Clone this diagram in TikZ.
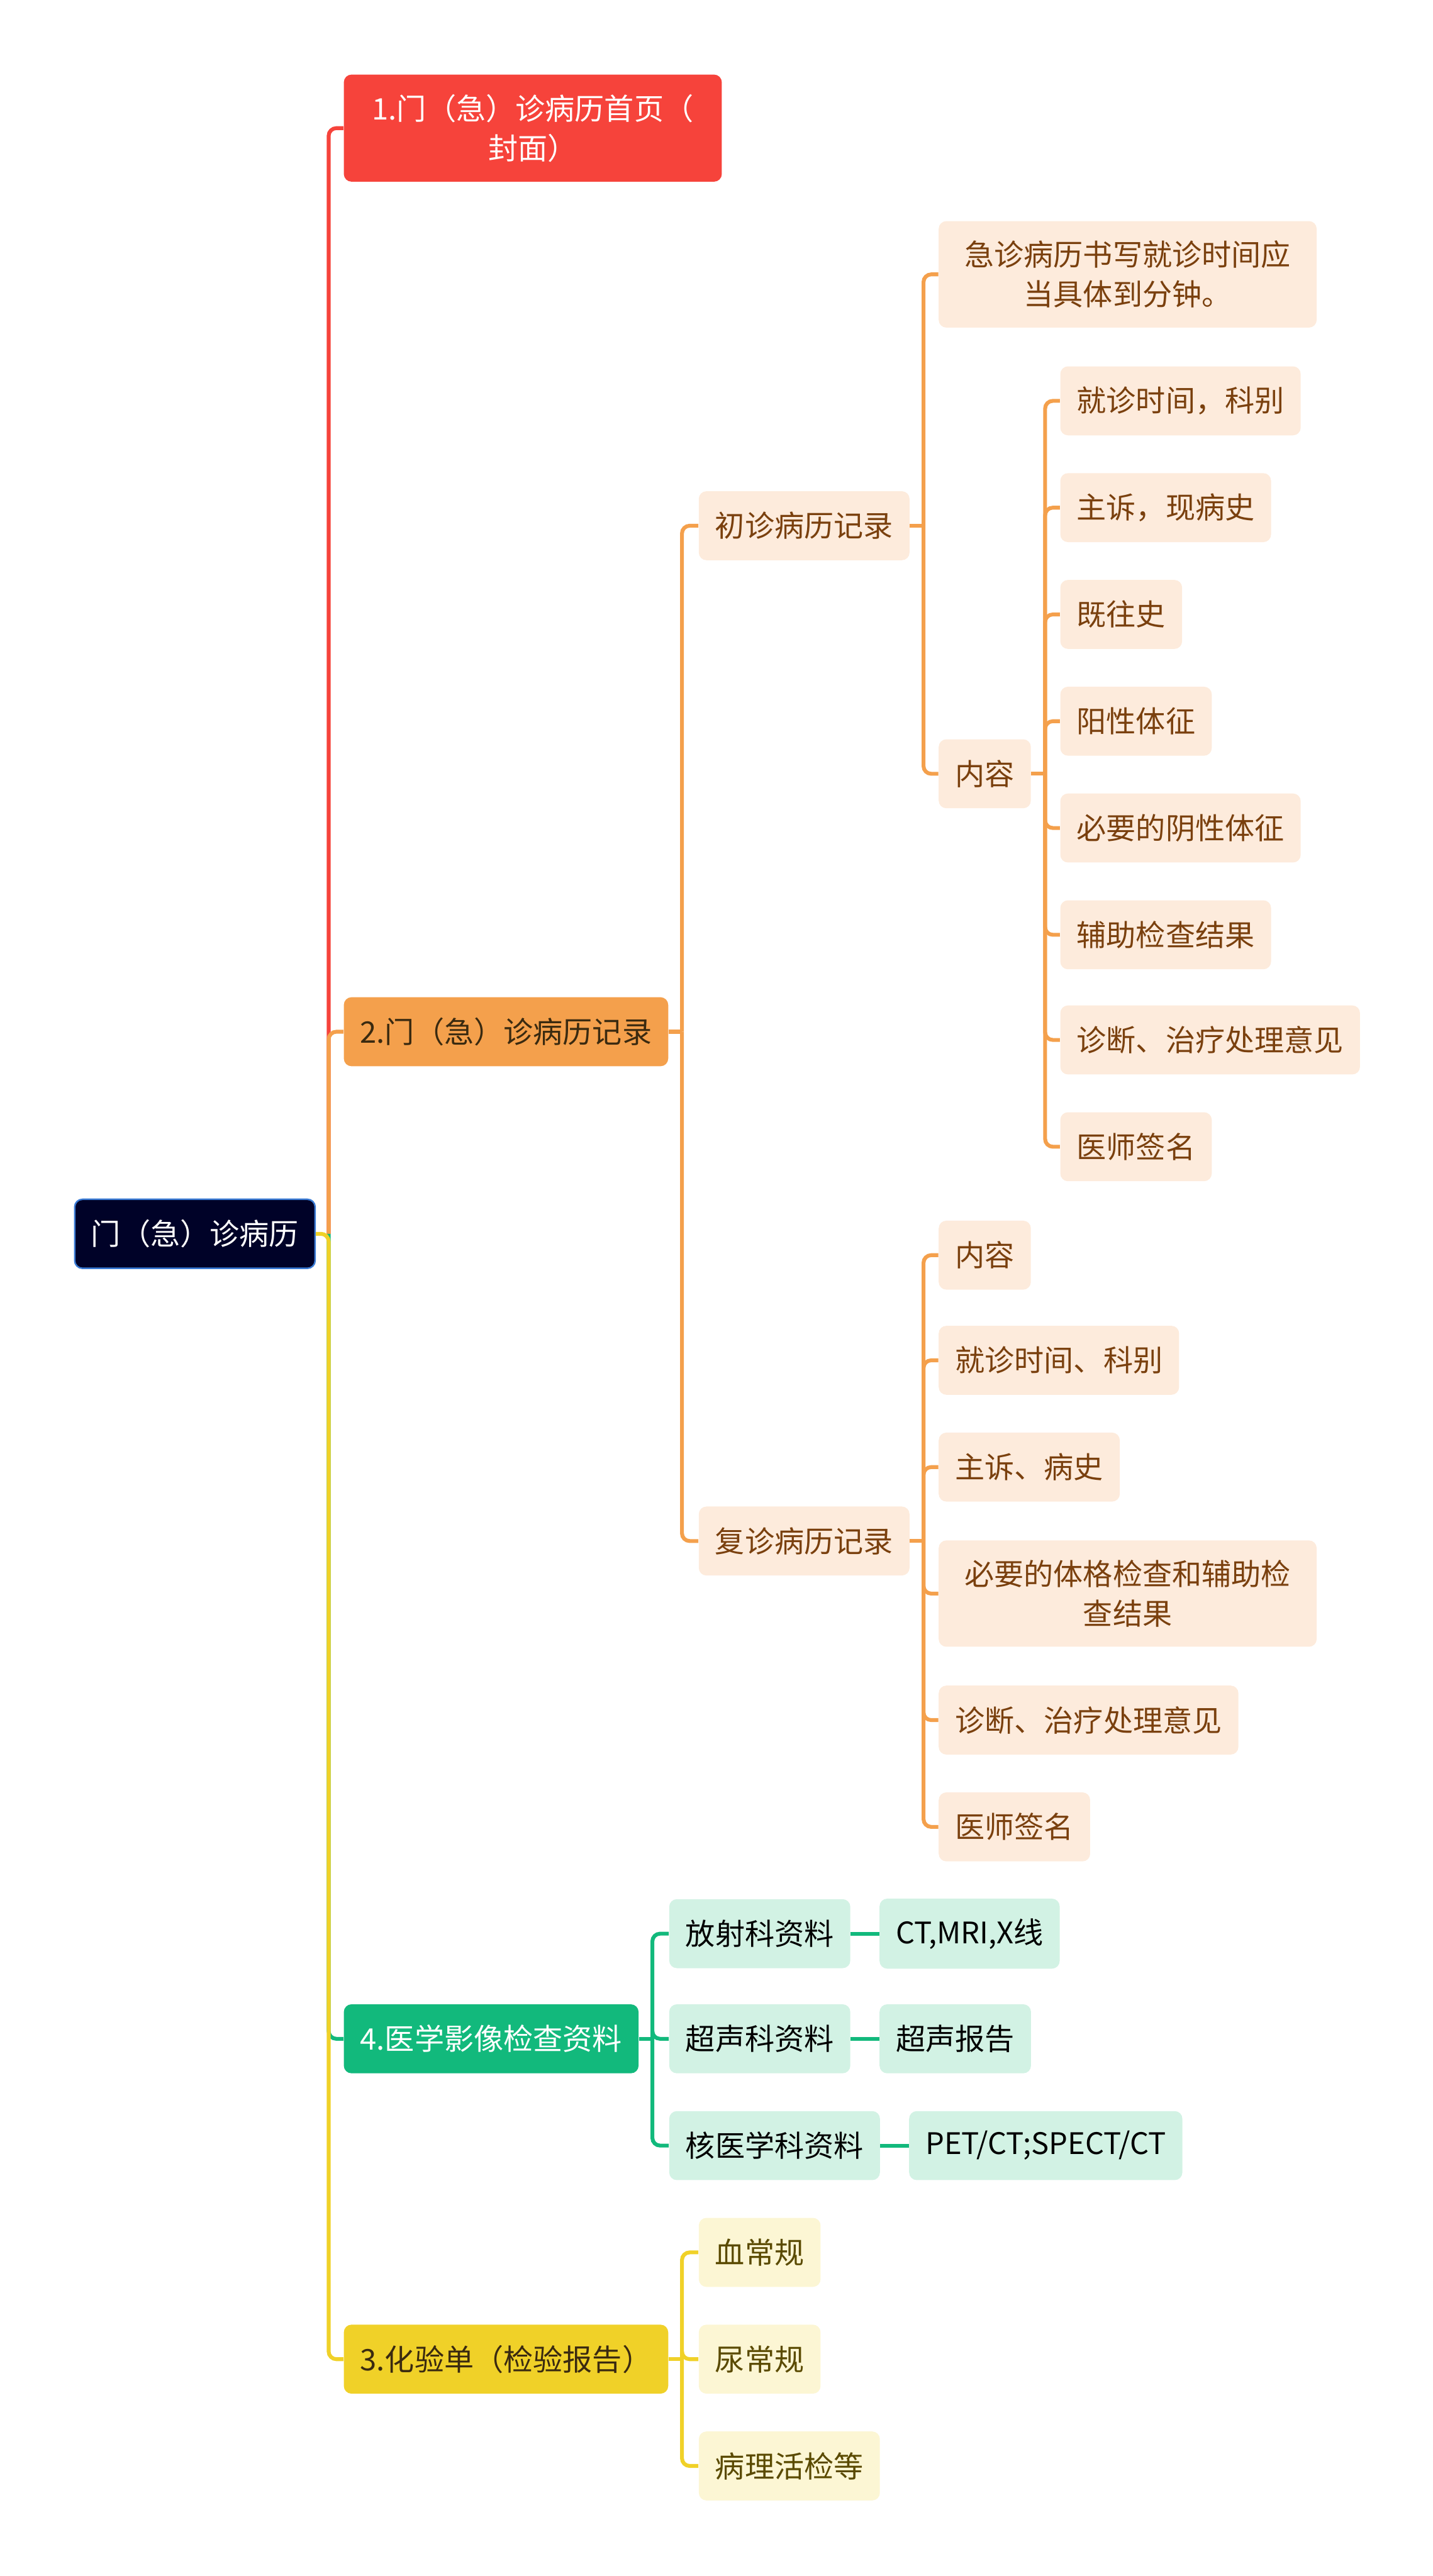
\documentclass[tikz,border=0pt]{standalone}
\usepackage{fontspec}
\setmainfont{Noto Sans CJK SC}
\usepackage{xcolor}
\usetikzlibrary{positioning}
\definecolor{rootNavy}{HTML}{000228}
\definecolor{rootEdge}{HTML}{3A7BD5}
\definecolor{mapRed}{HTML}{F6433B}
\definecolor{mapOrange}{HTML}{F4A04C}
\definecolor{mapGreen}{HTML}{12B97C}
\definecolor{mapYellow}{HTML}{F0D128}
\definecolor{peachFill}{HTML}{FDEBDC}
\definecolor{peachText}{HTML}{7A400E}
\definecolor{mintFill}{HTML}{D2F2E4}
\definecolor{lemonFill}{HTML}{FCF6D4}
\definecolor{lemonText}{HTML}{5A4A00}
\definecolor{darkText}{HTML}{3A2A10}

\begin{document}
\begin{tikzpicture}[x=0.03cm, y=-0.03cm,
    box/.style={rounded corners=4pt, anchor=west, align=center,
      font=\fontsize{15.4pt}{20.5pt}\selectfont, inner xsep=0.3cm,
      inner ysep=0.36cm, minimum height=1.26cm},
    rootbox/.style={box, fill=rootNavy, draw=rootEdge, line width=0.8pt, text=white},
    topR/.style={box, fill=mapRed, text=white},
    topO/.style={box, fill=mapOrange, text=darkText},
    topG/.style={box, fill=mapGreen, text=white},
    topY/.style={box, fill=mapYellow, text=darkText},
    leafO/.style={box, fill=peachFill, text=peachText},
    leafG/.style={box, fill=mintFill, text=black},
    leafY/.style={box, fill=lemonFill, text=lemonText},
    ln/.style={line width=2pt, rounded corners=4pt},
    lnR/.style={ln, mapRed}, lnO/.style={ln, mapOrange},
    lnG/.style={ln, mapGreen}, lnY/.style={ln, mapYellow}]
  \useasboundingbox (0,0) rectangle (872,1568);

  % root and main branches
  \node[rootbox] (root) at (45,751) {门（急）诊病历};
  \node[topR, minimum width=6.9cm] (n1) at (209,78) {1.门（急）诊病历首页（\\封面）};
  \node[topO] (n2) at (209,628) {2.门（急）诊病历记录};
  \node[topG] (n4) at (209,1241) {4.医学影像检查资料};
  \node[topY] (n3) at (209,1436) {3.化验单（检验报告）};

  % 门（急）诊病历记录
  \node[leafO] (first) at (425,320) {初诊病历记录};
  \node[leafO] (revisit) at (425,938) {复诊病历记录};

  \node[leafO, minimum width=6.9cm] (note) at (571,167) {急诊病历书写就诊时间应\\当具体到分钟。};
  \node[leafO] (content) at (571,471) {内容};

  \node[leafO] (c1) at (645,244) {就诊时间，科别};
  \node[leafO] (c2) at (645,309) {主诉，现病史};
  \node[leafO] (c3) at (645,374) {既往史};
  \node[leafO] (c4) at (645,439) {阳性体征};
  \node[leafO] (c5) at (645,504) {必要的阴性体征};
  \node[leafO] (c6) at (645,569) {辅助检查结果};
  \node[leafO] (c7) at (645,633) {诊断、治疗处理意见};
  \node[leafO] (c8) at (645,698) {医师签名};

  \node[leafO] (d1) at (571,764) {内容};
  \node[leafO] (d2) at (571,828) {就诊时间、科别};
  \node[leafO] (d3) at (571,893) {主诉、病史};
  \node[leafO, minimum width=6.9cm] (d4) at (571,970) {必要的体格检查和辅助检\\查结果};
  \node[leafO] (d5) at (571,1047) {诊断、治疗处理意见};
  \node[leafO] (d6) at (571,1112) {医师签名};

  % 医学影像检查资料
  \node[leafG] (e1) at (407,1177) {放射科资料};
  \node[leafG] (e2) at (407,1241) {超声科资料};
  \node[leafG] (e3) at (407,1306) {核医学科资料};
  \node[leafG] (f1) at (535,1177) {CT,MRI,X线};
  \node[leafG] (f2) at (535,1241) {超声报告};
  \node[leafG] (f3) at (553,1306) {PET/CT;SPECT/CT};

  % 化验单
  \node[leafY] (g1) at (425,1371) {血常规};
  \node[leafY] (g2) at (425,1436) {尿常规};
  \node[leafY] (g3) at (425,1501) {病理活检等};

  % trunks
  \coordinate (t0) at (200,751);
  \coordinate (t2) at (415,628);
  \coordinate (tf) at (562,320);
  \coordinate (tc) at (636,471);
  \coordinate (tr) at (562,938);
  \coordinate (t4) at (397,1241);
  \coordinate (t3) at (415,1436);

  \draw[lnR] (t0) |- (n1.west);
  \draw[lnO] (t0) |- (n2.west);
  \draw[lnG] (t0) |- (n4.west);
  \draw[lnY] (root.east) -- (t0) |- (n3.west);

  \draw[lnO] (n2.east) -- (t2);
  \draw[lnO] (t2) |- (first.west);
  \draw[lnO] (t2) |- (revisit.west);

  \draw[lnO] (first.east) -- (tf);
  \draw[lnO] (tf) |- (note.west);
  \draw[lnO] (tf) |- (content.west);

  \draw[lnO] (content.east) -- (tc);
  \foreach \c in {c1,c2,c3,c4,c5,c6,c7,c8}
    \draw[lnO] (tc) |- (\c.west);

  \draw[lnO] (revisit.east) -- (tr);
  \foreach \d in {d1,d2,d3,d4,d5,d6}
    \draw[lnO] (tr) |- (\d.west);

  \draw[lnG] (n4.east) -- (t4);
  \draw[lnG] (t4) |- (e1.west);
  \draw[lnG] (t4) |- (e2.west);
  \draw[lnG] (t4) |- (e3.west);
  \draw[lnG] (e1) -- (f1);
  \draw[lnG] (e2) -- (f2);
  \draw[lnG] (e3) -- (f3);

  \draw[lnY] (n3.east) -- (t3);
  \draw[lnY] (t3) |- (g1.west);
  \draw[lnY] (t3) |- (g2.west);
  \draw[lnY] (t3) |- (g3.west);
\end{tikzpicture}
\end{document}
